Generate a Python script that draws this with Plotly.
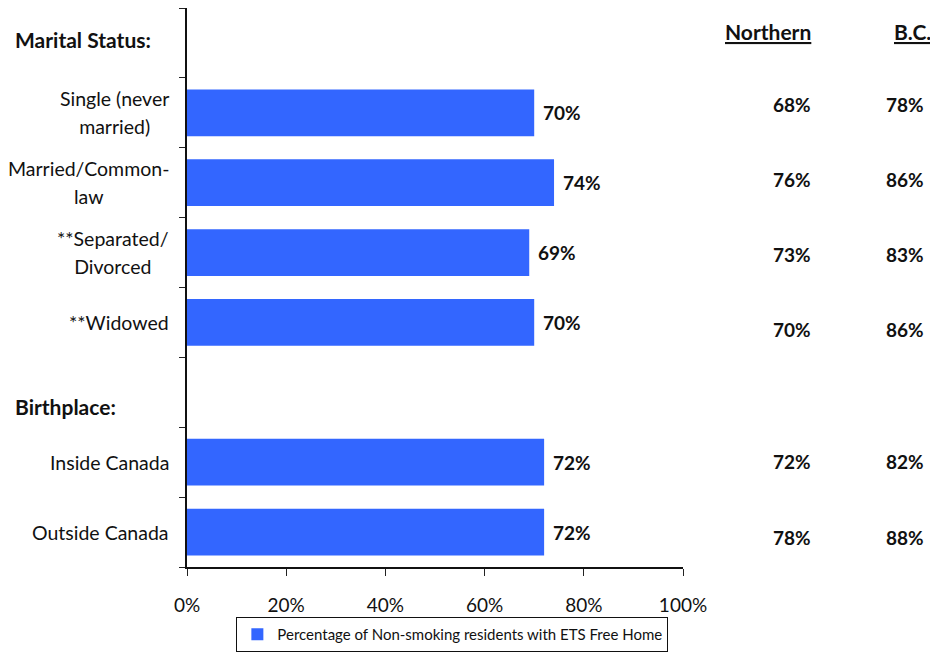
import plotly.graph_objects as go

# ---- data ----
rows = ["Marital Status:", "Single (never<br>married)", "Married/Common-<br>law",
        "**Separated/<br>Divorced", "**Widowed", "Birthplace:", "Inside Canada", "Outside Canada"]
is_header = [True, False, False, False, False, True, False, False]
ets_free = [None, 70, 74, 69, 70, None, 72, 72]
northern = [None, 68, 76, 73, 70, None, 72, 78]
bc = [None, 78, 86, 83, 86, None, 82, 88]
x_ticks = [0, 20, 40, 60, 80, 100]
x_tick_labels = ["0%", "20%", "40%", "60%", "80%", "100%"]
series_name = "Percentage of Non-smoking residents with ETS Free Home"

FONT = "Lato"
BLUE = "#3366FF"
INK = "#111111"
pos = list(range(len(rows)))

bar_y = [p for p, v in zip(pos, ets_free) if v is not None]
bar_x = [v for v in ets_free if v is not None]

fig = go.Figure()
fig.add_trace(go.Bar(
    x=bar_x, y=bar_y, orientation="h", width=0.67,
    marker=dict(color=BLUE, line=dict(width=0)),
    name=series_name, showlegend=True,
))

ann = []
# value labels next to the bars
for p, v in zip(bar_y, bar_x):
    ann.append(dict(xref="x", yref="y", x=v, y=p, xanchor="left", yanchor="middle", xshift=7,
                    text=f"<b>{v}%</b>", showarrow=False, font=dict(family=FONT, size=19, color=INK)))

# category labels
for p, r, h in zip(pos, rows, is_header):
    if h:
        ann.append(dict(xref="paper", yref="y", x=-0.351, y=p, xanchor="left", yanchor="middle",
                        text=f"<b>{r}</b>", showarrow=False, yshift=(3 if p == 0 else -14),
                        font=dict(family=FONT, size=21, color=INK)))
    else:
        ann.append(dict(xref="paper", yref="y", x=0, y=p, xanchor="right", yanchor="middle",
                        xshift=-16, align="center",
                        text="<br>".join(f"<span style='font-size:19.5px'>{s}</span>" for s in r.split("<br>")),
                        showarrow=False, font=dict(family=FONT, size=21.5, color=INK)))

# right-hand comparison columns
ann.append(dict(xref="paper", yref="paper", x=1.262, y=(572 - 32) / 564, xanchor="right", yanchor="middle",
                text="<b><u>Northern</u></b>", showarrow=False, font=dict(family=FONT, size=21, color=INK)))
ann.append(dict(xref="paper", yref="paper", x=1.505, y=(572 - 32) / 564, xanchor="right", yanchor="middle",
                text="<b><u>B.C.</u></b>", showarrow=False, font=dict(family=FONT, size=21, color=INK)))
shifts = [0, 8, 3, -2, -7, 0, 1, -5]
for p, n, b, s in zip(pos, northern, bc, shifts):
    if n is None:
        continue
    ann.append(dict(xref="paper", yref="y", x=1.262, y=p, xanchor="right", yanchor="middle", yshift=s,
                    text=f"<b>{n}%</b>", showarrow=False, font=dict(family=FONT, size=19, color=INK)))
    ann.append(dict(xref="paper", yref="y", x=1.49, y=p, xanchor="right", yanchor="middle", yshift=s,
                    text=f"<b>{b}%</b>", showarrow=False, font=dict(family=FONT, size=19, color=INK)))

bounds = [p - 0.5 for p in pos] + [pos[-1] + 0.5]
yr = [pos[-1] + 0.5, -0.5]

fig.update_layout(
    width=930, height=644,
    margin=dict(l=179, r=255, t=0, b=80),
    paper_bgcolor="white", plot_bgcolor="white",
    font=dict(family=FONT, size=18, color=INK),
    xaxis=dict(range=[0, 100], tickmode="array", tickvals=x_ticks, ticktext=x_tick_labels,
               ticks="outside", ticklen=7,
               tickcolor="#222", showline=True, linecolor=INK, linewidth=1.5, showgrid=False,
               zeroline=False, ticklabelstandoff=13, tickfont=dict(family=FONT, size=19, color=INK)),
    xaxis2=dict(range=[0, 100], tickvals=x_ticks, showticklabels=False, ticks="inside", ticklen=7,
                tickcolor="#222", overlaying="x", showline=False, showgrid=False, zeroline=False),
    yaxis=dict(range=yr, tickvals=bounds, ticktext=[""] * len(bounds), ticks="outside", ticklen=6,
               tickcolor="#222", showline=True, linecolor=INK, linewidth=1.5, showgrid=False,
               zeroline=False),
    yaxis2=dict(range=yr, tickvals=bounds, showticklabels=False, ticks="inside", ticklen=6,
                tickcolor="#222", overlaying="y", showline=False, showgrid=False, zeroline=False),
    legend=dict(orientation="h", x=0.535, xanchor="center", y=-0.09, yanchor="top",
                bordercolor=INK, borderwidth=1, bgcolor="white",
                font=dict(family=FONT, size=15, color=INK)),
    annotations=ann,
)

fig.write_html("out.html")
